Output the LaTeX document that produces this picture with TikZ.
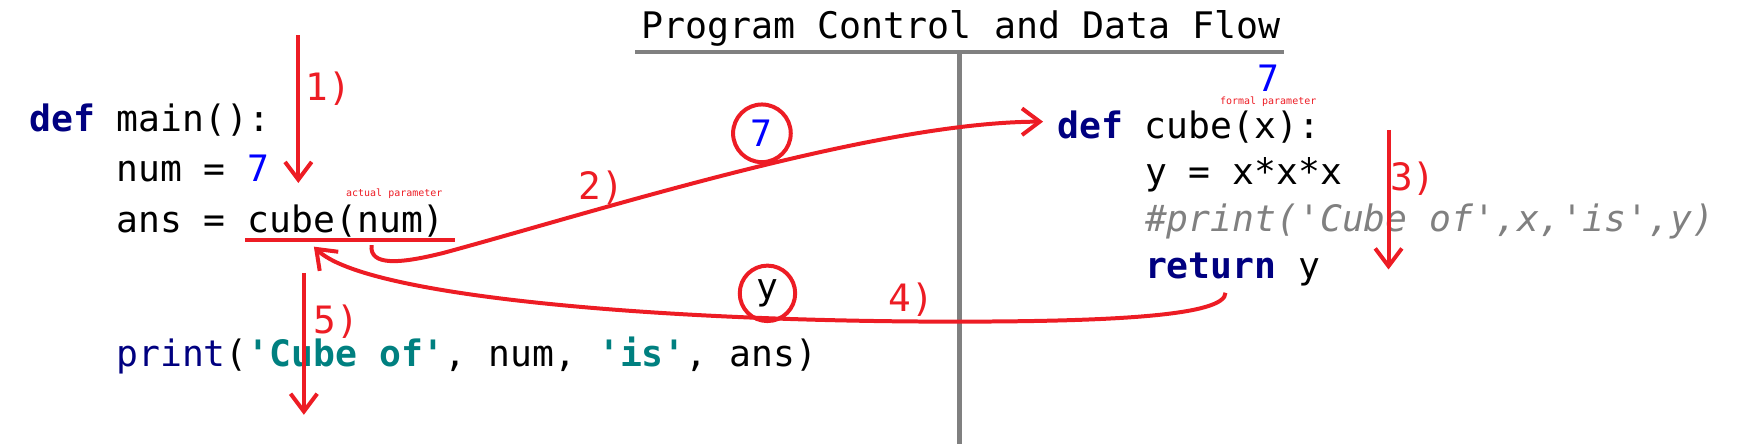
\documentclass[tikz,border=0pt]{standalone}
\usepackage{fontspec}
\setmonofont{DejaVu Sans Mono}
\usetikzlibrary{arrows.meta}
\definecolor{penred}{HTML}{ED1C24}
\definecolor{kwnavy}{HTML}{000080}
\definecolor{numblue}{HTML}{0000FF}
\definecolor{strteal}{HTML}{008080}
\definecolor{rulegray}{HTML}{808080}
\newcommand{\kw}[1]{\textcolor{kwnavy}{\bfseries #1}}
\newcommand{\pystr}[1]{\textcolor{strteal}{\bfseries #1}}
\begin{document}
\begin{tikzpicture}[x=0.5pt,y=-0.5pt,
    code/.style={anchor=base west,inner sep=0pt,font=\ttfamily\fontsize{16.4}{19}\selectfont},
    tiny/.style={inner sep=0pt,text=penred,font=\ttfamily\fontsize{4.5}{5}\selectfont},
    steplabel/.style={inner sep=0pt,text=penred,font=\ttfamily\fontsize{17}{20}\selectfont},
    flow/.style={draw=penred,line width=1.8pt,-{Straight Barb[length=8pt,width=12pt]}},
    ring/.style={circle,draw=penred,line width=1.8pt,inner sep=0pt,minimum size=26pt,
        font=\ttfamily\fontsize{16.4}{19}\selectfont}]
    \useasboundingbox (0,0) rectangle (1568,400);
    \node[code,font=\ttfamily\fontsize{16.5}{19}\selectfont] (title) at (578,34.6) {Program Control and Data Flow};
    \draw[rulegray,line width=1.8pt] (573,46.6) -- (1158,46.6);
    \draw[rulegray,line width=2pt] (865,46.6) -- (865,400);

    \node[code] (main) at (26,118.7) {\kw{def} main():};
    \node[code] (num) at (104.5,163.8) {num = \textcolor{numblue}{7}};
    \node[code] (ans) at (104.5,209.5) {ans = cube(num)};
    \node[code] (show) at (104.5,330.6) {\textcolor{kwnavy}{print}(\pystr{'Cube of'}, num, \pystr{'is'}, ans)};
    \node[tiny] (actual) at (355.5,175) {actual parameter};

    \node[code] (cubedef) at (953,124.7) {\kw{def} cube(x):};
    \node[code] (ycalc) at (1032,166.8) {y = x*x*x};
    \node[code,text=rulegray,font=\ttfamily\itshape\fontsize{16.4}{19}\selectfont] (comment) at (1032,208.9) {\#print('Cube of',x,'is',y)};
    \node[code] (ret) at (1032,251) {\kw{return} y};
    \node[tiny] (formal) at (1143.5,92) {formal parameter};
    \node[code,text=numblue] (passed) at (1133,82.7) {7};

    \node[ring] (seven) at (687,120.2) {\textcolor{numblue}{7}};
    \node[ring,minimum size=25pt] (result) at (692,264.5) {y};

    \coordinate (ulleft) at (221,216.5);
    \coordinate (ulright) at (410,216.5);
    \draw[penred,line width=1.8pt] (ulleft) -- (ulright);

    \coordinate (s1top) at (269,31.6);
    \coordinate (s1end) at (269,165);
    \draw[flow] (s1top) -- (s1end);
    \node[steplabel] (one) at (296,80) {1)};

    \coordinate (argnum) at (335,221);
    \coordinate (callin) at (940.5,109.7);
    \draw[flow] (argnum) .. controls (333,240) and (360,238) .. (400,228)
        .. controls (540,190) and (790,110) .. (callin);
    \node[steplabel] (two) at (542,169) {2)};

    \coordinate (s3top) at (1252,117);
    \coordinate (s3end) at (1252,243);
    \draw[flow] (s3top) -- (s3end);
    \node[steplabel] (three) at (1274,161) {3)};

    \coordinate (retout) at (1105,264);
    \coordinate (callback) at (283,222.4);
    \draw[flow] (retout) .. controls (1105,285) and (1000,290) .. (860,290)
        .. controls (600,290) and (330,268) .. (callback);
    \node[steplabel] (four) at (822,270) {4)};

    \coordinate (s5top) at (274,246);
    \coordinate (s5end) at (274,374);
    \draw[flow] (s5top) -- (s5end);
    \node[steplabel] (five) at (303,290) {5)};
\end{tikzpicture}
\end{document}
